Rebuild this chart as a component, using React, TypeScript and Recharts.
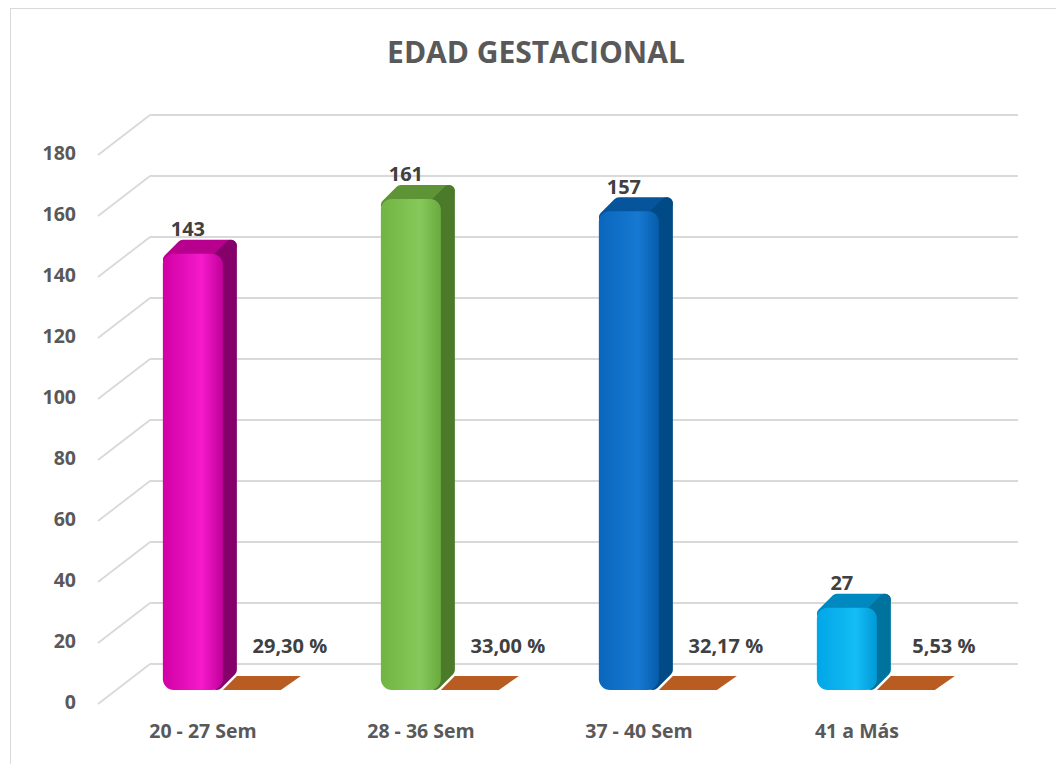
import { BarChart, Bar, XAxis, YAxis, CartesianGrid, LabelList } from 'recharts';

const categories = ['20 - 27 Sem', '28 - 36 Sem', '37 - 40 Sem', '41 a Más'];
const counts = [143, 161, 157, 27];
const shares = [0.293, 0.33, 0.3217, 0.0553];
const yTicks = [0, 20, 40, 60, 80, 100, 120, 140, 160, 180];

const data = categories.map((name, i) => ({ name, count: counts[i], share: shares[i] }));

// colours per bar: front gradient stops, top, side
const palette = [
  { a: '#D000A4', b: '#F51ACB', c: '#C0009A', top: '#B8008F', side: '#85006A' },
  { a: '#72B443', b: '#86C95A', c: '#6AAA3F', top: '#5E9436', side: '#4A7A2A' },
  { a: '#0A66BC', b: '#1679D2', c: '#075CAA', top: '#05549C', side: '#004A86' },
  { a: '#00A6E6', b: '#14BDF5', c: '#0099D6', top: '#0088C0', side: '#00729E' },
];

const DX = 18; // bar plane offset from the front plane
const DY = -14;
const DEPTH = 14;
const BACK_DX = 52;
const BACK_DY = -40;

function CountBar(props: any) {
  const { x, y, width, height, index } = props;
  const p = palette[index];
  const w = width - 2;
  const fx = x + DX;
  const fy = y + DY;
  const fb = y + height + DY;
  const k = 6;
  const top = `${fx + k},${fy + k} ${fx + k + DEPTH},${fy + k - DEPTH} ${fx + w - k + DEPTH},${fy + k - DEPTH} ${fx + w - k},${fy + k}`;
  const side = `${fx + w - k},${fy + k} ${fx + w - k + DEPTH},${fy + k - DEPTH} ${fx + w - k + DEPTH},${fb - k - DEPTH} ${fx + w - k},${fb - k}`;
  return (
    <g>
      <polygon points={top} fill={p.top} stroke={p.top} strokeWidth={2 * k} strokeLinejoin="round" />
      <polygon points={side} fill={p.side} stroke={p.side} strokeWidth={2 * k} strokeLinejoin="round" />
      <rect x={fx} y={fy} width={w} height={fb - fy} rx={11} ry={11} fill={`url(#front${index})`} />
    </g>
  );
}

function ShareSlab(props: any) {
  const { x, y, width, height } = props;
  const base = y + height + DY;
  const pts = `${x + DX - 2},${base} ${x + DX + width - 6},${base} ${x + DX + width + 14},${base - 14} ${x + DX + 12},${base - 14}`;
  return <polygon points={pts} fill="#B85C22" />;
}

function GridLine(props: any) {
  const { x1, y1, x2 } = props;
  return (
    <g>
      <line x1={x1} y1={y1} x2={x1 + BACK_DX} y2={y1 + BACK_DY} stroke="#D9D9D9" strokeWidth={1.8} />
      <line x1={x1 + BACK_DX} y1={y1 + BACK_DY} x2={x2 + 48} y2={y1 + BACK_DY} stroke="#D9D9D9" strokeWidth={1.8} />
    </g>
  );
}

const labelFont = { fontFamily: 'Open Sans', fontWeight: 700, fontSize: 20, fill: '#404040' };

function CountLabel(props: any) {
  const { x, y, width, value } = props;
  return (
    <text x={x + width / 2 + 12} y={y - 39} textAnchor="middle" dominantBaseline="central" {...labelFont}>
      {value}
    </text>
  );
}

function ShareLabel(props: any) {
  const { x, y, width, height, value } = props;
  const txt = (value * 100).toFixed(2).replace('.', ',') + ' %';
  return (
    <text x={x + width / 2 + 52} y={y + height - 59} textAnchor="middle" dominantBaseline="central" {...labelFont}>
      {txt}
    </text>
  );
}

export default function App() {
  return (
    <div style={{ position: 'absolute', left: 0, top: 0, width: 1056, height: 764, overflow: 'hidden', background: '#fff' }}>
      <div style={{ position: 'absolute', left: 10, top: 8, width: 1060, height: 780, border: '1.5px solid #D9D9D9' }} />
      <div
        style={{
          position: 'absolute',
          top: 31,
          left: 0,
          width: 1072,
          textAlign: 'center',
          fontFamily: 'Open Sans',
          fontWeight: 700,
          fontSize: 30,
          color: '#595959',
        }}
      >
        EDAD GESTACIONAL
      </div>
      <div style={{ position: 'absolute', left: 0, top: 0 }}>
        <BarChart
          width={1056}
          height={764}
          data={data}
          margin={{ top: 155, right: 86, bottom: 20, left: 0 }}
          barCategoryGap="21.5%"
          barGap={0}
        >
          <defs>
            {palette.map((p, i) => (
              <linearGradient key={i} id={`front${i}`} x1="0" y1="0" x2="1" y2="0">
                <stop offset="0%" stopColor={p.a} />
                <stop offset="65%" stopColor={p.b} />
                <stop offset="100%" stopColor={p.c} />
              </linearGradient>
            ))}
          </defs>
          <CartesianGrid vertical={false} horizontal={GridLine} />
          <XAxis
            dataKey="name"
            height={40}
            axisLine={false}
            tickLine={false}
            tickMargin={14}
            tick={{ fontFamily: 'Open Sans', fontWeight: 700, fontSize: 19.5, fill: '#595959', dx: -4 }}
          />
          <YAxis
            width={98}
            domain={[0, 180]}
            ticks={yTicks}
            axisLine={false}
            tickLine={false}
            tickMargin={16}
            tick={{ fontFamily: 'Open Sans', fontWeight: 700, fontSize: 19.5, fill: '#595959', dy: -2 }}
          />
          <Bar dataKey="count" shape={CountBar} isAnimationActive={false}>
            <LabelList dataKey="count" content={CountLabel} />
          </Bar>
          <Bar dataKey="share" shape={ShareSlab} isAnimationActive={false}>
            <LabelList dataKey="share" content={ShareLabel} />
          </Bar>
        </BarChart>
      </div>
    </div>
  );
}
